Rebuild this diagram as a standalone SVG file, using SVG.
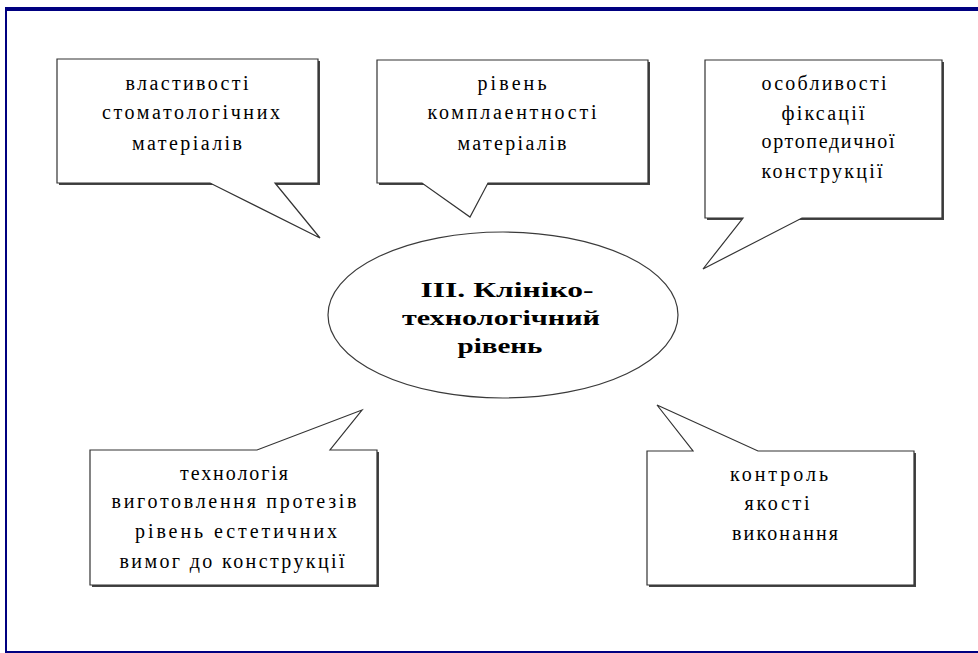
<svg xmlns="http://www.w3.org/2000/svg" width="978" height="653" viewBox="0 0 978 653">
<defs>
<style>
.frame{fill:#000080}
.shadow{fill:#444444}
.box{fill:#ffffff;stroke:#333333;stroke-width:1.2;stroke-linejoin:miter}
.ell{fill:#ffffff;stroke:#3a3a3a;stroke-width:1.2}
.t{font-family:"Liberation Serif","Times New Roman",serif;font-size:20px;fill:#000000;text-anchor:middle}
.tb{font-family:"Liberation Serif","Times New Roman",serif;font-size:22px;font-weight:bold;fill:#000000;text-anchor:middle}
</style>
</defs>
<rect width="978" height="653" fill="#ffffff"/>
<g id="frame">
<rect class="frame" x="5" y="7" width="973" height="4"/>
<rect class="frame" x="5" y="7" width="2" height="646"/>
<rect class="frame" x="5" y="651" width="973" height="2"/>
</g>
<g id="connectors">
</g>
<g id="node-center">
<ellipse class="ell" cx="503" cy="315" rx="175" ry="83"/>
<text class="tb" x="507" y="297" textLength="173" lengthAdjust="spacingAndGlyphs">ІІІ. Клініко-</text>
<text class="tb" x="501" y="325" textLength="198" lengthAdjust="spacingAndGlyphs">технологічний</text>
<text class="tb" x="500" y="353" textLength="85" lengthAdjust="spacingAndGlyphs">рівень</text>
</g>
<g id="node-1">
<rect class="shadow" x="59" y="61" width="261" height="124"/>
<path class="box" d="M57,59 H318 V183 H275 L320,238 L210,183 H57 Z"/>
<text class="t" x="187" y="90" textLength="123" lengthAdjust="spacing">властивості</text>
<text class="t" x="191" y="119" textLength="178" lengthAdjust="spacing">стоматологічних</text>
<text class="t" x="187" y="150" textLength="110" lengthAdjust="spacing">матеріалів</text>
</g>
<g id="node-2">
<rect class="shadow" x="379" y="62" width="271" height="123"/>
<path class="box" d="M377,60 H648 V183 H488 L470,217 L422,183 H377 Z"/>
<text class="t" x="512" y="90" textLength="69" lengthAdjust="spacing">рівень</text>
<text class="t" x="512" y="119" textLength="169" lengthAdjust="spacing">комплаентності</text>
<text class="t" x="512" y="150" textLength="109" lengthAdjust="spacing">матеріалів</text>
</g>
<g id="node-3">
<rect class="shadow" x="707" y="62" width="237" height="158"/>
<path class="box" d="M705,60 H942 V218 H802 L703,269 L743,218 H705 Z"/>
<text class="t" x="824" y="90" textLength="125" lengthAdjust="spacing">особливості</text>
<text class="t" x="823" y="120" textLength="83" lengthAdjust="spacing">фіксації</text>
<text class="t" x="828" y="148" textLength="133" lengthAdjust="spacing">ортопедичної</text>
<text class="t" x="822" y="178" textLength="121" lengthAdjust="spacing">конструкції</text>
</g>
<g id="node-4">
<rect class="shadow" x="92" y="452" width="287" height="135"/>
<path class="box" d="M90,450 H257 L362,410 L330,450 H377 V585 H90 Z"/>
<text class="t" x="234" y="480" textLength="108" lengthAdjust="spacing">технологія</text>
<text class="t" x="234" y="508" textLength="245" lengthAdjust="spacing">виготовлення протезів</text>
<text class="t" x="236" y="538" textLength="202" lengthAdjust="spacing">рівень естетичних</text>
<text class="t" x="232" y="568" textLength="225" lengthAdjust="spacing">вимог до конструкції</text>
</g>
<g id="node-5">
<rect class="shadow" x="649" y="453" width="267" height="134"/>
<path class="box" d="M647,451 H693 L657,405 L758,451 H914 V585 H647 Z"/>
<text class="t" x="779" y="481" textLength="98" lengthAdjust="spacing">контроль</text>
<text class="t" x="777" y="510" textLength="65" lengthAdjust="spacing">якості</text>
<text class="t" x="785" y="540" textLength="106" lengthAdjust="spacing">виконання</text>
</g>
</svg>
